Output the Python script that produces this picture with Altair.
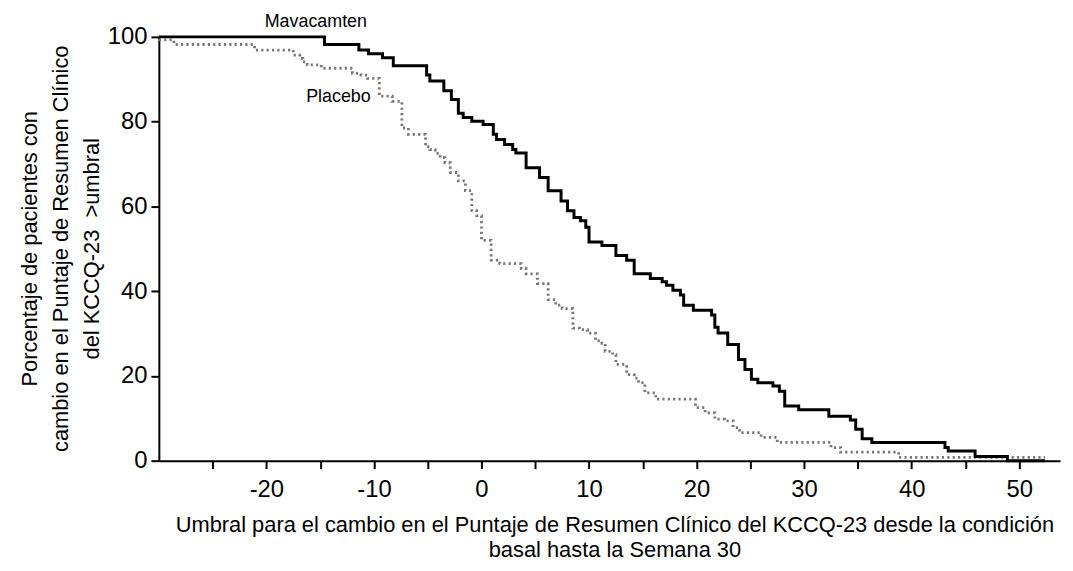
import altair as alt
import pandas as pd

# Mavacamten (solid) step curve: threshold, percent of patients
mava_x = [-30, -14.6, -11.4, -10.5, -9.2, -8.2, -5.1, -4.8, -3.5, -2.8, -2.15, -1.7, -0.9,
          0.15, 1.1, 1.4, 2.15, 2.9, 3.2, 4.15, 5.4, 6.2, 7.4, 8.0, 8.6, 9.2, 9.7, 10.0,
          11.2, 12.5, 13.5, 14.2, 15.7, 16.8, 17.2, 17.8, 18.5, 18.8, 19.7, 21.4, 21.7,
          22.0, 22.9, 23.9, 24.5, 25.1, 25.7, 27.1, 27.7, 28.2, 29.5, 32.3, 34.3, 34.8,
          35.4, 36.3, 43.1, 43.4, 45.9, 48.9, 52.4]
mava_y = [100, 98.2, 96.9, 96.0, 95.1, 93.2, 91.0, 89.6, 87.3, 85.2, 82.0, 81.0, 80.1,
          79.3, 77.0, 75.8, 74.6, 73.4, 72.6, 69.1, 66.8, 63.7, 61.3, 59.0, 57.4, 56.6, 55.1, 51.6,
          50.8, 48.4, 47.3, 44.1, 43.0, 42.2, 41.4, 40.2, 39.1, 36.7, 35.5, 34.4, 31.5,
          30.1, 27.4, 23.9, 21.5, 19.2, 18.4, 17.6, 16.4, 12.9, 12.0, 10.5, 9.6, 7.4,
          5.2, 4.3, 3.1, 2.3, 1.0, 0.0, 0.0]

# Placebo (dotted) step curve
plac_x = [-30, -28.6, -21.1, -17.5, -16.9, -16.6, -16.2, -14.9, -12.0, -11.2, -10.6, -9.5,
          -8.3, -7.4, -6.8, -5.2, -4.8, -4.3, -3.85, -3.4, -2.9, -2.15, -1.5, -0.9, -0.45,
          0.0, 0.9, 1.7, 3.7, 4.15, 5.2, 6.2, 6.9, 7.5, 8.5, 9.1, 9.85, 10.6, 11.2, 11.5,
          12.2, 12.5, 13.5, 14.2, 14.6, 15.2, 16.2, 19.9, 20.8, 21.7, 22.6, 23.4, 24.0,
          26.0, 27.5, 32.5, 33.4, 38.8, 52.4]
plac_y = [99.3, 98.2, 96.9, 95.7, 94.9, 94.1, 93.4, 92.6, 91.4, 91.0, 90.2, 86.0,
          84.8, 78.5, 77.0, 74.1, 73.4, 72.5, 71.5, 70.3, 68.0, 66.0, 63.7, 59.0, 57.8,
          52.0, 47.3, 46.5, 45.3, 44.1, 41.8, 38.0, 36.7, 35.9, 31.3, 30.9, 30.1, 28.3, 27.7, 25.8,
          25.0, 22.7, 20.3, 19.5, 18.4, 16.0, 14.5, 12.5, 11.3, 9.8, 9.4, 7.8, 6.6,
          5.5, 4.3, 3.1, 2.0, 0.8, 0.8]

label_text = ["Mavacamten", "Placebo"]
label_x = [-15.4, -13.3]
label_y = [103.4, 85.7]

x_ticks = [-25, -20, -15, -10, -5, 0, 5, 10, 15, 20, 25, 30, 35, 40, 45, 50]
y_ticks = [0, 20, 40, 60, 80, 100]

FONT = "Liberation Sans, Arial, sans-serif"

mava = pd.DataFrame({"x": mava_x, "y": mava_y})
plac = pd.DataFrame({"x": plac_x, "y": plac_y})
labels = pd.DataFrame({"t": label_text, "x": label_x, "y": label_y})

xscale = alt.Scale(domain=[-30, 53.8], nice=False, zero=False)
yscale = alt.Scale(domain=[0, 100], nice=False)

xaxis = alt.Axis(
    values=x_ticks,
    labelExpr="datum.value % 10 == 0 ? '' + datum.value : ''",
    title=["Umbral para el cambio en el Puntaje de Resumen Clínico del KCCQ-23 desde la condición",
           "basal hasta la Semana 30"],
    titleX=459, titleY=71, titleAlign="center", titleBaseline="alphabetic",
    titleLineHeight=26, labelPadding=9,
)
yaxis = alt.Axis(
    values=y_ticks,
    title=["Porcentaje de pacientes con", "cambio en el Puntaje de Resumen Clínico",
           "del KCCQ-23\u00a0 >umbral"],
    titleX=-140, titleY=213, titleAlign="center", titleBaseline="top", titleAngle=-90,
    titleLineHeight=31, labelPadding=4,
)

plac_line = alt.Chart(plac).mark_line(
    interpolate="step-after", color="#767676", strokeWidth=2.8, strokeDash=[2.2, 3.2]
).encode(
    x=alt.X("x:Q", scale=xscale, axis=xaxis),
    y=alt.Y("y:Q", scale=yscale, axis=yaxis),
)

mava_line = alt.Chart(mava).mark_line(
    interpolate="step-after", color="black", strokeWidth=3
).encode(
    x=alt.X("x:Q", scale=xscale),
    y=alt.Y("y:Q", scale=yscale),
)

text = alt.Chart(labels).mark_text(
    font=FONT, fontSize=18, color="black", align="center", baseline="middle"
).encode(
    x=alt.X("x:Q", scale=xscale),
    y=alt.Y("y:Q", scale=yscale),
    text="t:N",
)

chart = alt.layer(plac_line, mava_line, text).properties(
    width=908, height=427,
    autosize=alt.AutoSizeParams(type="none"),
    padding={"left": 152, "top": 27, "right": 5, "bottom": 101},
).configure_view(stroke=None).configure_axis(
    grid=False,
    domainColor="black", domainWidth=2,
    tickColor="black", tickWidth=2, tickSize=8,
    labelFont=FONT, labelFontSize=24, labelColor="black",
    titleFont=FONT, titleFontSize=22, titleFontWeight="normal", titleColor="black",
)

chart.save("out.html", embed_options={"renderer": "svg", "actions": False})
